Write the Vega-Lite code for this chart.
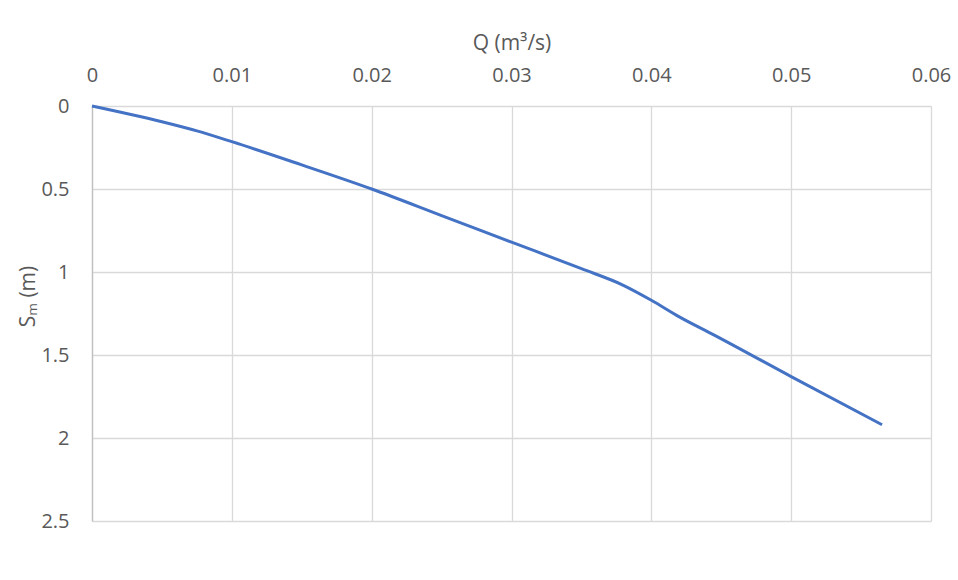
{
  "$schema": "https://vega.github.io/schema/vega-lite/v6.json",
  "width": 839,
  "height": 415,
  "autosize": {"type": "none"},
  "padding": {"left": 92, "top": 106, "right": 27, "bottom": 59},
  "background": "white",
  "config": {
    "view": {"stroke": null},
    "font": "Open Sans",
    "axis": {
      "labelColor": "#595959",
      "titleColor": "#595959",
      "labelFont": "Open Sans",
      "titleFont": "Open Sans",
      "labelFontSize": 20,
      "titleFontSize": 21,
      "titleFontWeight": "normal",
      "gridColor": "#d9d9d9",
      "gridWidth": 1.3,
      "domainColor": "#bfbfbf",
      "domainWidth": 1.3,
      "ticks": false
    }
  },
  "data": {
    "values": [
      {"Q": 0, "S": 0},
      {"Q": 0.005, "S": 0.095},
      {"Q": 0.0075, "S": 0.15},
      {"Q": 0.01, "S": 0.215},
      {"Q": 0.015, "S": 0.355},
      {"Q": 0.02, "S": 0.5},
      {"Q": 0.025, "S": 0.66},
      {"Q": 0.03, "S": 0.82},
      {"Q": 0.035, "S": 0.98},
      {"Q": 0.038, "S": 1.08},
      {"Q": 0.04, "S": 1.17},
      {"Q": 0.042, "S": 1.27},
      {"Q": 0.0445, "S": 1.38},
      {"Q": 0.05, "S": 1.63},
      {"Q": 0.0565, "S": 1.92}
    ]
  },
  "mark": {"type": "line", "color": "#4472c4", "strokeWidth": 3, "interpolate": "monotone"},
  "encoding": {
    "x": {
      "field": "Q",
      "type": "quantitative",
      "scale": {"domain": [0, 0.06], "nice": false, "zero": false},
      "axis": {
        "orient": "top",
        "title": "Q (m³/s)",
        "values": [0, 0.01, 0.02, 0.03, 0.04, 0.05, 0.06],
        "labelExpr": "datum.value == 0 ? '0' : format(datum.value, '.2f')",
        "labelPadding": 21,
        "titlePadding": 12,
        "domain": false,
        "labelFlush": false
      }
    },
    "y": {
      "field": "S",
      "type": "quantitative",
      "scale": {"domain": [0, 2.5], "reverse": true, "nice": false},
      "axis": {
        "title": "Sₘ (m)",
        "values": [0, 0.5, 1, 1.5, 2, 2.5],
        "labelExpr": "format(datum.value, '~g')",
        "labelPadding": 23,
        "titlePadding": 2,
        "titleY": 190,
        "labelFlush": false
      }
    }
  }
}
